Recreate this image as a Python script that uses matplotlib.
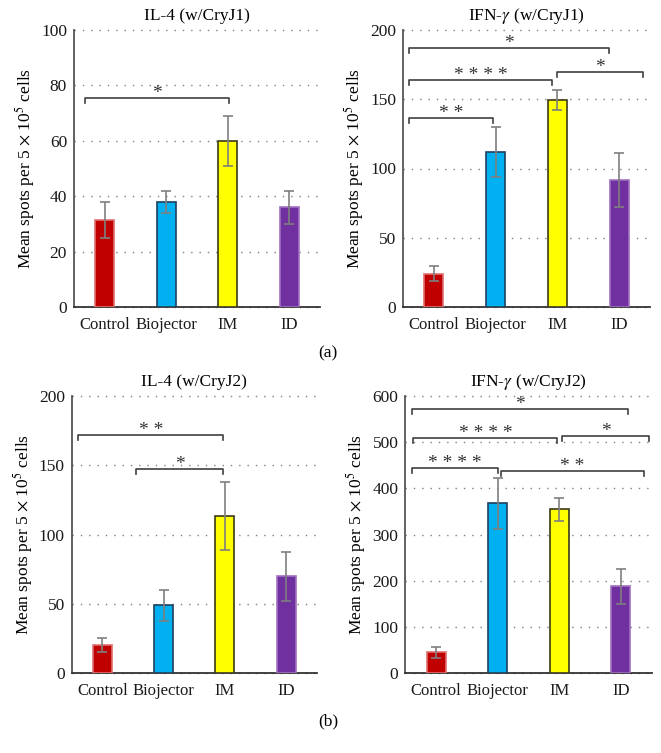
import matplotlib
matplotlib.use("Agg")
import matplotlib.pyplot as plt
import numpy as np

plt.rcParams['font.family'] = ['Liberation Serif', 'DejaVu Serif']
plt.rcParams['mathtext.fontset'] = 'stix'

categories = ['Control', 'Biojector', 'IM', 'ID']

il4_j1 = [31.5, 38, 60, 36]
il4_j1_err = [6.5, 4, 9, 6]
ifn_j1 = [24, 112, 149.5, 92]
ifn_j1_err = [5.5, 18, 7.5, 19.5]
il4_j2 = [20.5, 49, 113.5, 70]
il4_j2_err = [5, 11, 24.5, 17.5]
ifn_j2 = [45.5, 368, 355, 188]
ifn_j2_err = [11.5, 55.5, 25, 37]

titles = ['IL-4 (w/CryJ1)', r'IFN-$\gamma$ (w/CryJ1)', 'IL-4 (w/CryJ2)', r'IFN-$\gamma$ (w/CryJ2)']
ymax = [100, 200, 200, 600]
ystep = [20, 50, 50, 100]

# significance brackets: (x_start, x_end, y, label)
brackets_a_left = [(-0.32, 2.02, 75.6, '*')]
brackets_a_right = [(-0.40, 2.84, 187.2, '*'),
                    (-0.40, 1.92, 163.7, '* * * *'),
                    (1.99, 3.39, 169.7, '*'),
                    (-0.40, 0.96, 136.7, '* *')]
brackets_b_left = [(-0.39, 1.97, 171.9, '* *'),
                   (0.55, 1.97, 147.4, '*')]
brackets_b_right = [(-0.39, 3.12, 571, '*'),
                    (-0.37, 1.97, 508.4, '* * * *'),
                    (2.05, 3.46, 513.4, '*'),
                    (-0.39, 1.00, 445, '* * * *'),
                    (1.05, 3.38, 438.4, '* *')]

bar_colors = ['#C00000', '#00B0F0', '#FFFF00', '#7030A0']
edge_colors = ['#E07070', '#1F3F5F', '#3A3A1A', '#9F70C0']

fig = plt.figure(figsize=(6.61, 7.53), dpi=100)
W, H = 661, 753
rects = [(74, 320, 30, 307), (403, 650, 30, 307), (71.7, 316.7, 396, 673.3), (405.3, 651.7, 396, 673.3)]
values = [il4_j1, ifn_j1, il4_j2, ifn_j2]
errs = [il4_j1_err, ifn_j1_err, il4_j2_err, ifn_j2_err]
brackets = [brackets_a_left, brackets_a_right, brackets_b_left, brackets_b_right]

x = np.arange(len(categories))
for i, (x0, x1, yt, yb) in enumerate(rects):
    ax = fig.add_axes([x0 / W, (H - yb) / H, (x1 - x0) / W, (yb - yt) / H])
    ax.bar(x, values[i], width=0.31, color=bar_colors, edgecolor=edge_colors, linewidth=1.2, zorder=3)
    ax.errorbar(x, values[i], yerr=errs[i], fmt='none', ecolor='#7F7F7F', elinewidth=1.2,
                capsize=3.5, capthick=1.2, zorder=4)
    ax.set_xlim(-0.5, 3.5)
    ax.set_ylim(0, ymax[i])
    ax.set_yticks(np.arange(0, ymax[i] + 1, ystep[i]))
    ax.set_xticks(x)
    ax.set_xticklabels(categories, fontsize=12)
    ax.tick_params(axis='y', length=0, labelsize=12.5, colors='#1a1a1a', pad=5)
    ax.tick_params(axis='x', length=0, labelsize=12, colors='#1a1a1a', pad=7)
    for s in ['top', 'right']:
        ax.spines[s].set_visible(False)
    ax.spines['left'].set_color('#555555')
    ax.spines['left'].set_linewidth(1.3)
    ax.spines['bottom'].set_color('#333333')
    ax.spines['bottom'].set_linewidth(1.3)
    ax.yaxis.grid(True, linestyle=(0, (1, 5)), color='#808080', linewidth=1.0, zorder=0)
    for gl in ax.get_ygridlines():
        gl.set_clip_on(False)
    ax.set_axisbelow(True)
    ax.set_title(titles[i], fontsize=12.5, pad=7)
    ax.set_ylabel(r'Mean spots per 5 $\times$ 10$^5$ cells', fontsize=12.5, labelpad=3)
    drop = ymax[i] * 0.018
    for (bx0, bx1, by, lab) in brackets[i]:
        ax.plot([bx0, bx0, bx1, bx1], [by - drop, by, by, by - drop], color='#404040',
                linewidth=1.2, zorder=5, clip_on=False)
        ax.annotate(lab, xy=((bx0 + bx1) / 2, by), xytext=(0, 0), textcoords='offset points',
                    ha='center', va='baseline', fontsize=14, color='#333333')

fig.text(328 / W, 1 - 353 / H, '(a)', ha='center', va='center', fontsize=12.5)
fig.text(328 / W, 1 - 721 / H, '(b)', ha='center', va='center', fontsize=12.5)

fig.savefig('out.png', dpi=100)
